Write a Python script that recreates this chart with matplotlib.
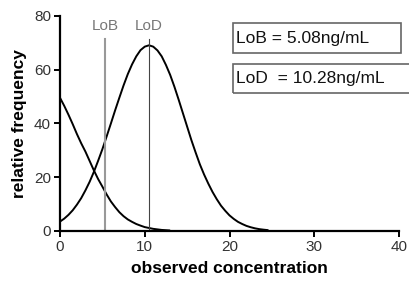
import matplotlib.pyplot as plt
from matplotlib.patches import Rectangle

plt.rcParams['font.family'] = ['Liberation Sans', 'DejaVu Sans']

# blank distribution
blank_x = [0, 0.5, 1, 1.5, 2, 2.5, 3, 3.5, 4, 4.5, 5, 5.5, 6, 6.5, 7, 7.5, 8, 8.5,
           9, 9.5, 10, 11, 12, 13]
blank_y = [49.5, 46.5, 43.2, 39.7, 36.0, 32.6, 29.5, 26.0, 22.5, 19.3, 16.5, 13.6,
           11.0, 8.9, 7.0, 5.5, 4.3, 3.4, 2.6, 2.0, 1.45, 0.8, 0.4, 0.2]

# low level sample distribution
sample_x = [0, 0.5, 1, 1.5, 2, 2.5, 3, 3.5, 4, 4.5, 5, 5.5, 6, 6.5, 7, 7.5, 8, 8.5,
            9, 9.5, 10, 10.5, 11, 11.5, 12, 12.5, 13, 13.5, 14, 14.5, 15, 15.5, 16,
            16.5, 17, 17.5, 18, 18.5, 19, 19.5, 20, 20.5, 21, 21.5, 22, 22.5, 23,
            23.5, 24, 24.6]
sample_y = [3.5, 4.6, 6.0, 7.7, 9.8, 12.2, 15.1, 18.3, 22.0, 26.1, 30.4, 35.1, 39.9,
            44.8, 49.5, 54.1, 58.3, 61.9, 64.9, 67.2, 68.5, 69.0, 68.5, 67.1, 64.9,
            61.7, 58.0, 53.6, 48.8, 43.8, 38.8, 33.8, 29.2, 24.8, 21.0, 17.6, 14.5,
            11.8, 9.4, 7.5, 5.8, 4.5, 3.4, 2.6, 1.9, 1.4, 1.0, 0.7, 0.5, 0.3]

lob_pos = 5.3
lod_pos = 10.5
lob_text = 'LoB = 5.08ng/mL'
lod_text = 'LoD  = 10.28ng/mL'

fig = plt.figure(figsize=(4.09, 2.84), dpi=100)
ax = fig.add_axes([60 / 409, 1 - 231 / 284, 339 / 409, 215.3 / 284])

ax.plot(blank_x, blank_y, color='black', linewidth=1.4, solid_capstyle='butt')
ax.plot(sample_x, sample_y, color='black', linewidth=1.4, solid_capstyle='butt')

ax.plot([lob_pos, lob_pos], [0, 71.5], color='#999999', linewidth=1.5)
ax.plot([lod_pos, lod_pos], [0, 71.5], color='#444444', linewidth=0.8)
ax.text(lob_pos, 76, 'LoB', ha='center', va='center', fontsize=11, color='#777777')
ax.text(lod_pos, 76, 'LoD', ha='center', va='center', fontsize=11, color='#777777')

ax.set_xlim(0, 40)
ax.set_ylim(0, 80)
ax.set_xticks([0, 10, 20, 30, 40])
ax.set_yticks([0, 20, 40, 60, 80])
ax.spines['top'].set_visible(False)
ax.spines['right'].set_visible(False)
ax.spines['left'].set_linewidth(1.6)
ax.spines['bottom'].set_linewidth(1.6)
ax.tick_params(direction='out', length=4.5, width=1.4, labelsize=11, pad=2, colors='black',
               labelcolor='#333333')
ax.set_xlabel('observed concentration', fontsize=12.5, fontweight='bold', labelpad=5)
ax.set_ylabel('relative frequency', fontsize=12.5, fontweight='bold', labelpad=5)

# text boxes (second one runs past the right edge)
fig.patches.append(Rectangle((233 / 409, 1 - 52.7 / 284), 168 / 409, 29.4 / 284,
                             transform=fig.transFigure, fill=False, edgecolor='#666666',
                             linewidth=1.2))
fig.patches.append(Rectangle((233 / 409, 1 - 93.3 / 284), 190 / 409, 29.4 / 284,
                             transform=fig.transFigure, fill=False, edgecolor='#666666',
                             linewidth=1.2))
fig.text(236.5 / 409, 1 - 38 / 284, lob_text, fontsize=12.5, va='center', ha='left', color='#111111')
fig.text(236.5 / 409, 1 - 78.7 / 284, lod_text, fontsize=12.5, va='center', ha='left', color='#111111')

fig.savefig('out.png', dpi=100)
